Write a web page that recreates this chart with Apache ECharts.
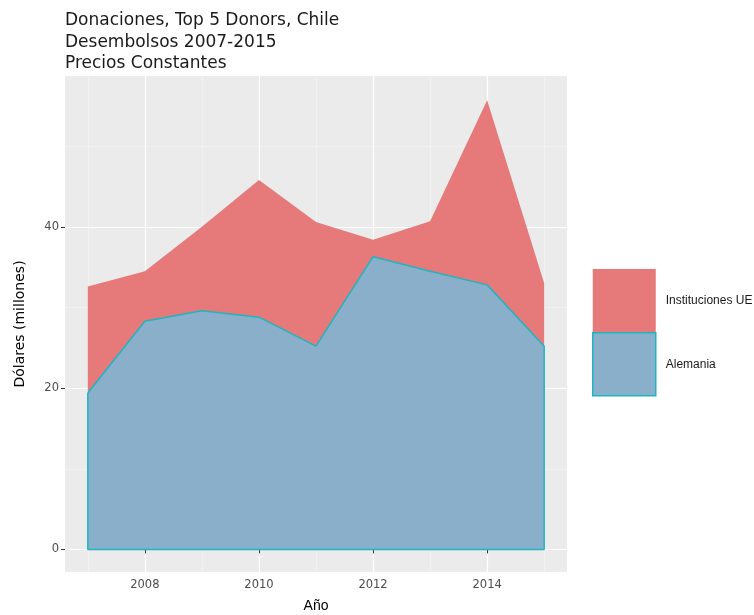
<!DOCTYPE html>
<html>
<head>
<meta charset="utf-8">
<script src="https://cdn.jsdelivr.net/npm/echarts@6/dist/echarts.min.js"></script>
<style>html,body{margin:0;padding:0;background:#fff}#c{width:754px;height:615px}</style>
</head>
<body>
<div id="c"></div>
<script>
const years = [2007, 2008, 2009, 2010, 2011, 2012, 2013, 2014, 2015];
const alemania = [19.4, 28.3, 29.6, 28.8, 25.2, 36.3, 34.5, 32.8, 25.2];
const institucionesUE = [13.2, 6.2, 10.4, 17.0, 15.4, 2.1, 6.2, 22.9, 7.8];
const yTicks = [0, 20, 40];
const yMinor = [10, 30, 50];
const xTicks = [2008, 2010, 2012, 2014];
const xMinor = [2007, 2009, 2011, 2013, 2015];

const FONT = 'DejaVu Sans';
const alemPts = years.map((y, i) => [y, alemania[i]]);
// top of the stacked area = Alemania + Instituciones UE
const totalPts = years.map((y, i) => [y, alemania[i] + institucionesUE[i]]);
const outline = alemPts.concat([[years[years.length - 1], 0], [years[0], 0], [years[0], alemania[0]]]);

const chart = echarts.init(document.getElementById('c'), null, { renderer: 'canvas' });
const xRange = { min: 2006.6, max: 2015.4 };
const yRange = { min: -2.8, max: 58.7 };
chart.setOption({
  animation: false,
  backgroundColor: '#fff',
  textStyle: { fontFamily: FONT },
  title: {
    text: 'Donaciones, Top 5 Donors, Chile\nDesembolsos 2007-2015\nPrecios Constantes',
    left: 60, top: 5,
    textStyle: { fontFamily: FONT, fontSize: 17, fontWeight: 'normal', color: '#1a1a1a', lineHeight: 21.5 }
  },
  legend: {
    orient: 'vertical', left: 592, top: 269, itemGap: 0, padding: 0,
    itemWidth: 63, itemHeight: 63, icon: 'rect',
    textStyle: { fontFamily: 'Liberation Sans', fontSize: 12, color: '#1a1a1a', padding: [0, 0, 0, 5] },
    data: [
      { name: 'Instituciones UE', itemStyle: { color: '#E67A7A', borderWidth: 0 } },
      { name: 'Alemania', itemStyle: { color: '#8AAFCB', borderColor: '#1FB5C0', borderWidth: 1.5 } }
    ]
  },
  grid: { left: 65, right: 187, top: 76, bottom: 43, show: true, backgroundColor: '#EBEBEB', borderWidth: 0, outerBoundsMode: 'none', containLabel: false },
  xAxis: [
    {
      type: 'value', ...xRange,
      name: 'Año', nameLocation: 'middle', nameGap: 27,
      nameTextStyle: { fontFamily: 'Liberation Sans', fontSize: 14, color: '#000' },
      axisLine: { show: false },
      axisTick: { show: true, length: 4, lineStyle: { color: '#333' }, customValues: xTicks },
      axisLabel: { color: '#4D4D4D', fontSize: 11.5, margin: 7.5, customValues: xTicks, formatter: v => String(v) },
      splitLine: { show: true, lineStyle: { color: '#fff', width: 1.2 } }
    },
    {
      type: 'value', ...xRange, position: 'bottom',
      axisLine: { show: false },
      axisTick: { show: false, customValues: xMinor },
      axisLabel: { show: false, customValues: xMinor },
      splitLine: { show: true, lineStyle: { color: '#F5F5F5', width: 0.6 } }
    }
  ],
  yAxis: [
    {
      type: 'value', ...yRange,
      name: 'Dólares (millones)', nameLocation: 'middle', nameGap: 38,
      nameTextStyle: { fontFamily: FONT, fontSize: 14, color: '#000' },
      axisLine: { show: false },
      axisTick: { show: true, length: 4, lineStyle: { color: '#333' }, customValues: yTicks },
      axisLabel: { color: '#4D4D4D', fontSize: 11.5, margin: 6, customValues: yTicks },
      splitLine: { show: true, lineStyle: { color: '#fff', width: 1.2 } }
    },
    {
      type: 'value', ...yRange, position: 'left',
      axisLine: { show: false },
      axisTick: { show: false, customValues: yMinor },
      axisLabel: { show: false, customValues: yMinor },
      splitLine: { show: true, lineStyle: { color: '#F5F5F5', width: 0.6 } }
    }
  ],
  series: [
    {
      name: 'Instituciones UE', type: 'line', data: totalPts,
      showSymbol: false, symbol: 'none', z: 2,
      lineStyle: { width: 0 },
      itemStyle: { color: '#E67A7A' },
      areaStyle: { color: '#E67A7A', opacity: 1, origin: 0 }
    },
    {
      name: 'Alemania', type: 'line', data: alemPts,
      showSymbol: false, symbol: 'none', z: 3,
      lineStyle: { width: 0 },
      itemStyle: { color: '#8AAFCB' },
      areaStyle: { color: '#8AAFCB', opacity: 1, origin: 0 }
    },
    {
      name: 'outline', type: 'line', data: outline,
      showSymbol: false, symbol: 'none', z: 4, silent: true,
      lineStyle: { color: '#1FB5C0', width: 1.5 }
    }
  ]
});
</script>
</body>
</html>
